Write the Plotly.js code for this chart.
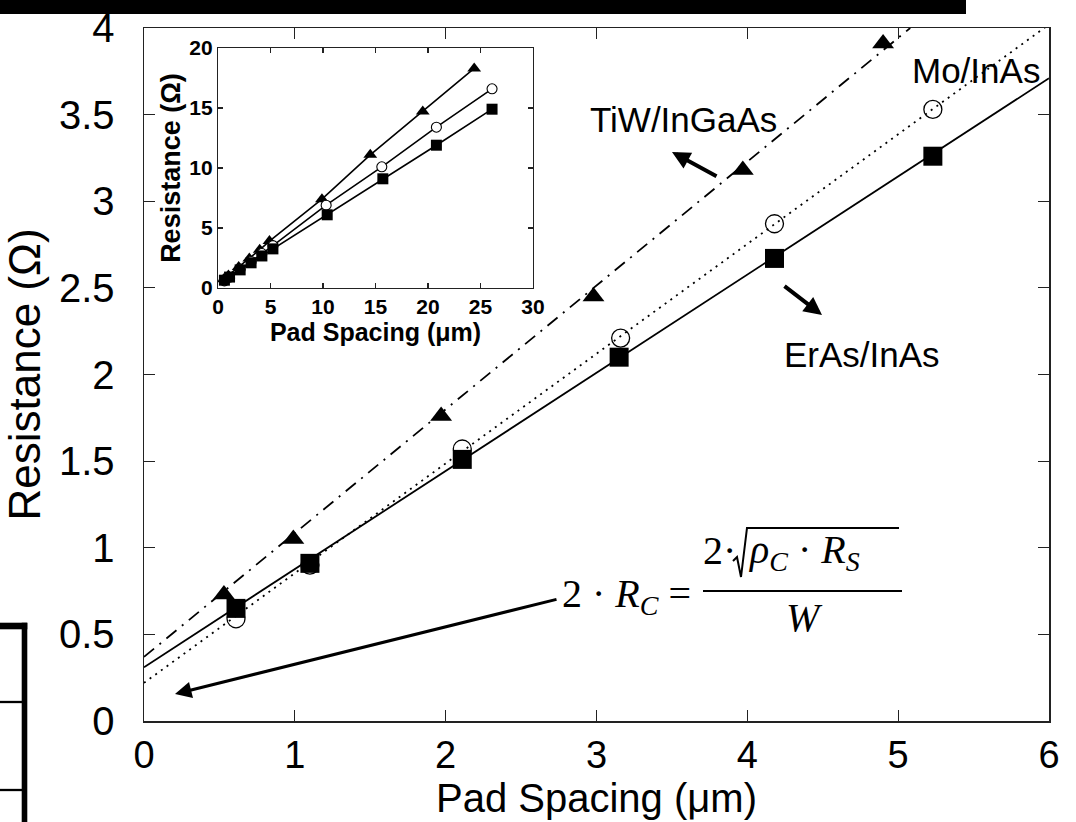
<!DOCTYPE html>
<html><head><meta charset="utf-8">
<script src="https://cdn.plot.ly/plotly-3.0.1.min.js"></script>
<style>html,body{margin:0;padding:0;background:#fff}</style>
</head><body><div id="chart" style="width:1076px;height:822px"></div>
<script>
// ---- data ----
const erasX = [0.61, 1.10, 2.11, 3.15, 4.18, 5.23];
const erasY = [0.65, 0.91, 1.51, 2.10, 2.67, 3.26];
const moX   = [0.61, 1.10, 2.11, 3.16, 4.18, 5.23];
const moY   = [0.59, 0.90, 1.57, 2.21, 2.87, 3.53];
const tiwX  = [0.53, 0.99, 1.97, 2.98, 3.97, 4.90];
const tiwY  = [0.73, 1.05, 1.76, 2.45, 3.18, 3.91];
// long pad spacings (inset only)
const erasLongX = [10.4, 15.7, 20.8, 26.1];
const erasLongY = [6.1, 9.1, 11.9, 14.9];
const moLongX   = [10.3, 15.6, 20.8, 26.1];
const moLongY   = [6.9, 10.1, 13.4, 16.6];
const tiwLongX  = [9.9, 14.5, 19.5, 24.4];
const tiwLongY  = [7.4, 11.1, 14.7, 18.3];
// linear fits (end points)
const erasFitX = [0, 6];    const erasFitY = [0.31, 3.71];
const moFitX   = [0, 6];    const moFitY   = [0.22, 4.02];
const tiwFitX  = [0, 5.08]; const tiwFitY  = [0.37, 4.00];
const seriesNames = ['ErAs/InAs', 'Mo/InAs', 'TiW/InGaAs'];

// ---- geometry helpers (for decorations only) ----
const PL = 144, PR = 1049, PT = 28, PB = 721;
const px = v => (v - PL) / (PR - PL);   // pixel -> paper x
const py = v => (PB - v) / (PB - PT);   // pixel -> paper y

const SANS = 'Liberation Sans, Arial, sans-serif';
const SERIF = 'Liberation Serif, Times New Roman, serif';

const traces = [
  // main fits
  {x: moFitX, y: moFitY, mode: 'lines', line: {color: '#000', width: 1.8, dash: '2px,5px'}, hoverinfo: 'skip', showlegend: false},
  {x: erasFitX, y: erasFitY, mode: 'lines', line: {color: '#000', width: 1.8}, hoverinfo: 'skip', showlegend: false},
  {x: tiwFitX, y: tiwFitY, mode: 'lines', line: {color: '#000', width: 1.8, dash: '13px,7px,2px,7px'}, hoverinfo: 'skip', showlegend: false},
  // main markers
  {x: moX, y: moY, mode: 'markers', name: seriesNames[1], marker: {symbol: 'circle-open', size: 18, color: '#000', line: {width: 1.3, color: '#000'}}},
  {x: erasX, y: erasY, mode: 'markers', name: seriesNames[0], marker: {symbol: 'square', size: 19, color: '#000'}},
  {x: tiwX, y: tiwY, mode: 'markers', name: seriesNames[2], marker: {symbol: 'triangle-up', size: 19, color: '#000'}},
  // inset
  {x: tiwX.concat(tiwLongX), y: tiwY.concat(tiwLongY), xaxis: 'x2', yaxis: 'y2', mode: 'lines+markers',
   line: {color: '#000', width: 1.6}, marker: {symbol: 'triangle-up', size: 12, color: '#000'}, showlegend: false},
  {x: moX.concat(moLongX), y: moY.concat(moLongY), xaxis: 'x2', yaxis: 'y2', mode: 'lines+markers',
   line: {color: '#000', width: 1.6}, marker: {symbol: 'circle', size: 10, color: '#fff', line: {width: 1.1, color: '#000'}}, showlegend: false},
  {x: erasX.concat(erasLongX), y: erasY.concat(erasLongY), xaxis: 'x2', yaxis: 'y2', mode: 'lines+markers',
   line: {color: '#000', width: 1.6}, marker: {symbol: 'square', size: 11, color: '#000'}, showlegend: false}
];

const axBase = {showgrid: false, zeroline: false, showline: true, linecolor: '#222', linewidth: 1.5,
  mirror: 'ticks', ticks: 'inside', tickcolor: '#222', tickwidth: 1.2};

const layout = {
  width: 1076, height: 822,
  margin: {l: PL, r: 1076 - PR, t: PT, b: 822 - PB},
  paper_bgcolor: '#fff', plot_bgcolor: '#fff',
  showlegend: false,
  xaxis: Object.assign({}, axBase, {range: [0, 6], dtick: 1, tick0: 0, ticklen: 11,
    tickfont: {family: SANS, size: 38, color: '#000'}, ticklabelstandoff: 0,
    title: {text: 'Pad Spacing (μm)', font: {family: SANS, size: 40, color: '#000'}, standoff: 4}}),
  yaxis: Object.assign({}, axBase, {range: [0, 4], dtick: 0.5, tick0: 0, ticklen: 11,
    tickfont: {family: SANS, size: 40, color: '#000'}, ticklabelstandoff: 20,
    title: {text: 'Resistance (Ω)', font: {family: SANS, size: 44, color: '#000'}, standoff: 8}}),
  xaxis2: Object.assign({}, axBase, {domain: [px(218), px(533)], anchor: 'y2', range: [0, 30], dtick: 5, tick0: 0,
    ticklen: 5, linewidth: 1.2, tickfont: {family: SANS, size: 21, color: '#000', weight: 700}, ticklabelstandoff: 0,
    title: {text: 'Pad Spacing (μm)', font: {family: SANS, size: 25, color: '#000', weight: 700}, standoff: 2}}),
  yaxis2: Object.assign({}, axBase, {domain: [py(288), py(48)], anchor: 'x2', range: [0, 20], dtick: 5, tick0: 0,
    ticklen: 5, linewidth: 1.2, tickfont: {family: SANS, size: 21, color: '#000', weight: 700}, ticklabelstandoff: 0,
    title: {text: 'Resistance (Ω)', font: {family: SANS, size: 27, color: '#000', weight: 700}, standoff: 0}}),
  shapes: [
    // inset background
    {type: 'rect', xref: 'paper', yref: 'paper', x0: px(218), x1: px(533), y0: py(288), y1: py(48), fillcolor: '#fff', line: {width: 0}, layer: 'below'},
    // top black bar (cropped figure border)
    {type: 'rect', xref: 'paper', yref: 'paper', x0: px(-2), x1: px(966), y0: py(14), y1: py(-2), fillcolor: '#000', line: {width: 0}},
    // cropped table at lower left
    {type: 'rect', xref: 'paper', yref: 'paper', x0: px(21.7), x1: px(27.3), y0: py(830), y1: py(622.7), fillcolor: '#000', line: {width: 0}},
    {type: 'rect', xref: 'paper', yref: 'paper', x0: px(-2), x1: px(27.3), y0: py(629.3), y1: py(622.7), fillcolor: '#000', line: {width: 0}},
    {type: 'line', xref: 'paper', yref: 'paper', x0: px(-2), x1: px(22), y0: py(702), y1: py(702), line: {color: '#000', width: 2.3}},
    {type: 'line', xref: 'paper', yref: 'paper', x0: px(-2), x1: px(22), y0: py(790), y1: py(790), line: {color: '#000', width: 2.3}},
    // formula: fraction bar and radical
    {type: 'line', xref: 'paper', yref: 'paper', x0: px(703), x1: px(902), y0: py(591), y1: py(591), line: {color: '#000', width: 2}},
    {type: 'path', xref: 'paper', yref: 'paper',
     path: 'M' + px(733) + ',' + py(561) + ' L' + px(737) + ',' + py(557) + ' L' + px(741) + ',' + py(577) +
           ' L' + px(747) + ',' + py(528) + ' L' + px(899) + ',' + py(528),
     line: {color: '#000', width: 2}}
  ],
  annotations: [
    {xref: 'paper', yref: 'paper', x: px(683), y: py(120), xanchor: 'center', yanchor: 'middle', text: 'TiW/InGaAs', showarrow: false, font: {family: SANS, size: 35, color: '#000'}},
    {xref: 'paper', yref: 'paper', x: px(976), y: py(71), xanchor: 'center', yanchor: 'middle', text: 'Mo/InAs', showarrow: false, font: {family: SANS, size: 35, color: '#000'}},
    {xref: 'paper', yref: 'paper', x: px(862), y: py(354), xanchor: 'center', yanchor: 'middle', text: 'ErAs/InAs', showarrow: false, font: {family: SANS, size: 35, color: '#000'}},
    // arrows
    {xref: 'paper', yref: 'paper', axref: 'pixel', ayref: 'pixel', x: px(672), y: py(152), ax: 718 - 672, ay: 177 - 152,
     showarrow: true, arrowhead: 2, arrowwidth: 4, arrowsize: 0.9, arrowcolor: '#000', text: ''},
    {xref: 'paper', yref: 'paper', axref: 'pixel', ayref: 'pixel', x: px(822), y: py(315), ax: 783 - 822, ay: 285 - 315,
     showarrow: true, arrowhead: 2, arrowwidth: 4, arrowsize: 0.9, arrowcolor: '#000', text: ''},
    {xref: 'paper', yref: 'paper', axref: 'pixel', ayref: 'pixel', x: px(175), y: py(694), ax: 558 - 175, ay: 599 - 694,
     showarrow: true, arrowhead: 2, arrowwidth: 3, arrowsize: 1.1, arrowcolor: '#000', text: ''},
    // formula
    {xref: 'paper', yref: 'paper', x: px(703), y: py(596), xanchor: 'right', yanchor: 'middle', showarrow: false,
     text: '2 · <i>R<sub>C</sub></i> = ', font: {family: SERIF, size: 40, color: '#000'}},
    {xref: 'paper', yref: 'paper', x: px(738), y: py(550), xanchor: 'right', yanchor: 'middle', showarrow: false,
     text: '2·', font: {family: SERIF, size: 40, color: '#000'}},
    {xref: 'paper', yref: 'paper', x: px(746), y: py(552), xanchor: 'left', yanchor: 'middle', showarrow: false,
     text: '<i>ρ<sub>C</sub></i> · <i>R<sub>S</sub></i>', font: {family: SERIF, size: 40, color: '#000'}},
    {xref: 'paper', yref: 'paper', x: px(804), y: py(617), xanchor: 'center', yanchor: 'middle', showarrow: false,
     text: '<i>W</i>', font: {family: SERIF, size: 40, color: '#000'}}
  ]
};

Plotly.newPlot('chart', traces, layout, {displayModeBar: false, staticPlot: true});
</script>
</body></html>
